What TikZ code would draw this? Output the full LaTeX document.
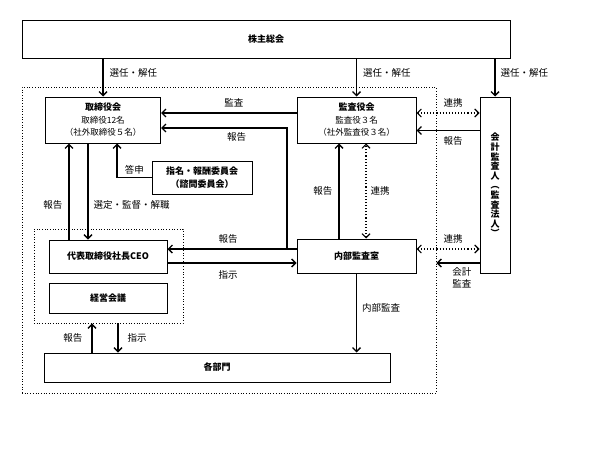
\documentclass[tikz,border=0pt]{standalone}
\usepackage{fontspec}
\setmainfont{Noto Sans CJK JP}
\usetikzlibrary{arrows.meta,positioning}

\newcommand{\subtxt}{\mdseries\fontsize{8.5}{12.5}\selectfont}

\tikzset{
  box/.style={draw, line width=1pt, fill=white, inner sep=0pt, align=center,
    font=\bfseries\fontsize{9}{12.5}\selectfont},
  frame/.style={draw, dotted, line width=0.7pt, inner sep=0pt},
  lbl/.style={font=\fontsize{9.5}{11.5}\selectfont, inner sep=0pt},
  arr/.style={line width=1.4pt, -{Straight Barb[length=4pt,width=8pt]}},
  darr/.style={line width=1.1pt, dotted,
    {Straight Barb[length=4pt,width=8pt]}-{Straight Barb[length=4pt,width=8pt]}},
}

\begin{document}
\begin{tikzpicture}[x=1pt, y=-1pt]
\useasboundingbox (0,0) rectangle (602,452);

% dotted frames
\node[frame, minimum width=414pt, minimum height=306pt] (kaisha) at (229,240) {};
\node[frame, minimum width=149pt, minimum height=94pt] (keieibox) at (108.5,276) {};

% boxes
\node[box, minimum width=488pt, minimum height=38pt] (soukai) at (266,39.5) {株主総会};
\node[box, minimum width=115pt, minimum height=46pt] (tori) at (103,120)
  {取締役会\\\subtxt 取締役12名\\\subtxt （社外取締役５名）};
\node[box, minimum width=119pt, minimum height=46pt] (kansa) at (356.5,120)
  {監査役会\\\subtxt 監査役３名\\\subtxt （社外監査役３名）};
\node[box, minimum width=30pt, minimum height=176pt,
  font=\bfseries\fontsize{9}{9.6}\selectfont] (kaikei) at (495,185)
  {会\\計\\監\\査\\人\\︵\\監\\査\\法\\人\\︶};
\node[box, minimum width=100pt, minimum height=33pt] (iinkai) at (202,177.5)
  {指名・報酬委員会\\（諮問委員会）};
\node[box, minimum width=118pt, minimum height=33pt] (ceo) at (108,256.5) {代表取締役社長CEO};
\node[box, minimum width=118pt, minimum height=30pt] (keiei) at (108,298) {経営会議};
\node[box, minimum width=119pt, minimum height=34pt] (naibu) at (356.5,256) {内部監査室};
\node[box, minimum width=346pt, minimum height=29pt] (kakubu) at (217,367.5) {各部門};

% rows and columns for the connectors
\coordinate (r113) at (0,113);
\coordinate (r128) at (0,128);
\coordinate (r130) at (0,130.5);
\coordinate (r249) at (0,249);
\coordinate (r263) at (0,263);
\coordinate (c69) at (69,0);
\coordinate (c88) at (88,0);
\coordinate (c92) at (92,0);
\coordinate (c117) at (117,0);
\coordinate (c118) at (118,0);
\coordinate (c339) at (339,0);
\coordinate (c366) at (366,0);
\coordinate (j) at (287,249);

% connectors
\draw[arr] (soukai.south -| tori.north) -- node[lbl, right=6pt, pos=.37] {選任・解任} (tori.north);
\draw[arr] (soukai.south -| kansa.north) -- node[lbl, right=6pt, pos=.37] {選任・解任} (kansa.north);
\draw[arr] (soukai.south -| kaikei.north) -- node[lbl, right=5pt, pos=.37] {選任・解任} (kaikei.north);

\draw[arr] (kansa.west |- r113) -- node[lbl, above=5pt, xshift=5pt] {監査} (tori.east |- r113);
\draw[arr] (j) |- node[lbl, below=4pt, pos=.7] {報告} (tori.east |- r128);
\draw[arr] (naibu.west |- r249) -- node[lbl, above=5pt, xshift=-4pt] {報告} (ceo.east |- r249);
\draw[arr] (ceo.east |- r263) -- node[lbl, below=7pt, xshift=-4pt] {指示} (naibu.west |- r263);

\draw[arr] (naibu.north -| c339) -- node[lbl, left=6pt] {報告} (kansa.south -| c339);
\draw[darr] (naibu.north -| c366) -- node[lbl, right=4pt] {連携} (kansa.south -| c366);

\draw[darr] (kansa.east |- r113) -- node[lbl, above=5pt, xshift=5pt] {連携} (kaikei.west |- r113);
\draw[arr] (kaikei.west |- r130) -- node[lbl, below=5pt, xshift=5pt] {報告} (kansa.east |- r130);
\draw[darr] (naibu.east |- r249) -- node[lbl, above=5pt, xshift=5pt] {連携} (kaikei.west |- r249);
\draw[arr] (kaikei.west |- r263) -- node[lbl, below=4pt, align=center, xshift=4pt] {会計\\監査} (kaisha.east |- r263);

\draw[arr] (iinkai.west) -| node[lbl, above=3pt, pos=.25] {答申} (tori.south -| c117);
\draw[arr] (tori.south -| c88) -- node[lbl, right=5pt, pos=.64] {選定・監督・解職} (ceo.north -| c88);
\draw[arr] (ceo.north -| c69) -- node[lbl, left=6pt, pos=.36] {報告} (tori.south -| c69);

\draw[arr] (naibu.south) -- node[lbl, right=5pt, pos=.44] {内部監査} (kakubu.north -| naibu.south);
\draw[arr] (kakubu.north -| c92) -- node[lbl, left=9pt] {報告} (keieibox.south -| c92);
\draw[arr] (keieibox.south -| c118) -- node[lbl, right=9pt] {指示} (kakubu.north -| c118);
\end{tikzpicture}
\end{document}
